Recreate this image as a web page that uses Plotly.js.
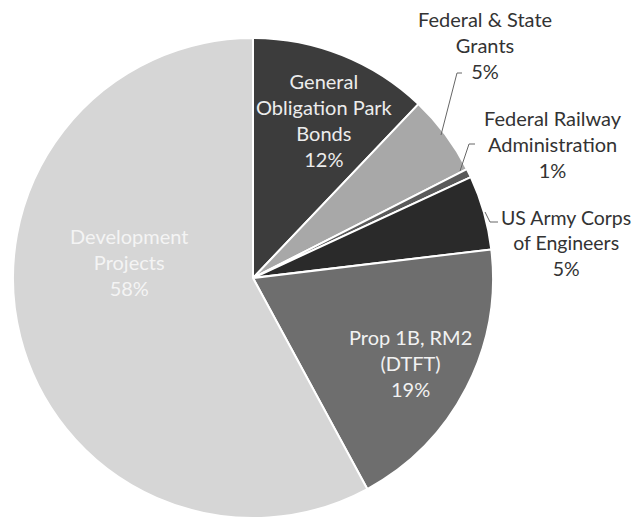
<!DOCTYPE html>
<html>
<head>
<meta charset="utf-8">
<script src="https://cdn.plot.ly/plotly-3.0.1.min.js"></script>
<style>html,body{margin:0;padding:0;background:#fff;}#chart{width:634px;height:525px;}</style>
</head>
<body>
<div id="chart"></div>
<script>
// Data
const labels = ["General<br>Obligation Park<br>Bonds", "Federal & State<br>Grants", "Federal Railway<br>Administration", "US Army Corps<br>of Engineers", "Prop 1B, RM2<br>(DTFT)", "Development<br>Projects"];
const values = [12.1, 5.4, 0.6, 5.0, 19.0, 57.9];
const colors = ["#3c3c3c", "#a8a8a8", "#5a5a5a", "#2a2a2a", "#6e6e6e", "#d6d6d6"];

const W = 634, H = 525;
const px = x => x / W;
const py = y => 1 - y / H;

const total = values.reduce((a, b) => a + b, 0);
const pctText = v => Math.round(v / total * 100) + "%";

// label placement (pixels): [x, y, color, size]
const labelPos = [
  [324, 120, "#ececec", 20],
  [485, 45, "#333333", 20],
  [553, 144, "#333333", 20],
  [566, 243, "#333333", 19.5],
  [410, 363, "#f2f2f2", 20],
  [129, 262, "#f4f4f4", 20]
];

const annotations = labels.map((l, i) => ({
  x: px(labelPos[i][0]), y: py(labelPos[i][1]), xref: "paper", yref: "paper",
  text: l + "<br>" + pctText(values[i]), showarrow: false,
  xanchor: "center", yanchor: "middle", align: "center",
  font: {family: "Lato, 'Open Sans', sans-serif", size: labelPos[i][3], color: labelPos[i][2]}
}));

const leaderPaths = [
  [[462, 73], [457, 73], [441, 135]],
  [[475, 144], [469, 144], [460, 171]],
  [[498, 222], [490, 222], [485, 212]]
];
const shapes = leaderPaths.map(p => ({
  type: "path", xref: "paper", yref: "paper",
  path: p.map((pt, j) => (j ? "L" : "M") + px(pt[0]) + "," + py(pt[1])).join(" "),
  line: {color: "#666666", width: 1}
}));

const trace = {
  type: "pie",
  labels: labels,
  values: values,
  marker: {colors: colors, line: {color: "#ffffff", width: 2}},
  sort: false,
  direction: "clockwise",
  rotation: 0,
  textinfo: "none",
  hoverinfo: "none",
  showlegend: false,
  domain: {x: [13 / W, 493 / W], y: [(H - 518) / H, (H - 38) / H]}
};

const layout = {
  width: W, height: H,
  margin: {l: 0, r: 0, t: 0, b: 0},
  paper_bgcolor: "#ffffff",
  showlegend: false,
  annotations: annotations,
  shapes: shapes
};

Plotly.newPlot("chart", [trace], layout, {displayModeBar: false, staticPlot: true});
</script>
</body>
</html>
